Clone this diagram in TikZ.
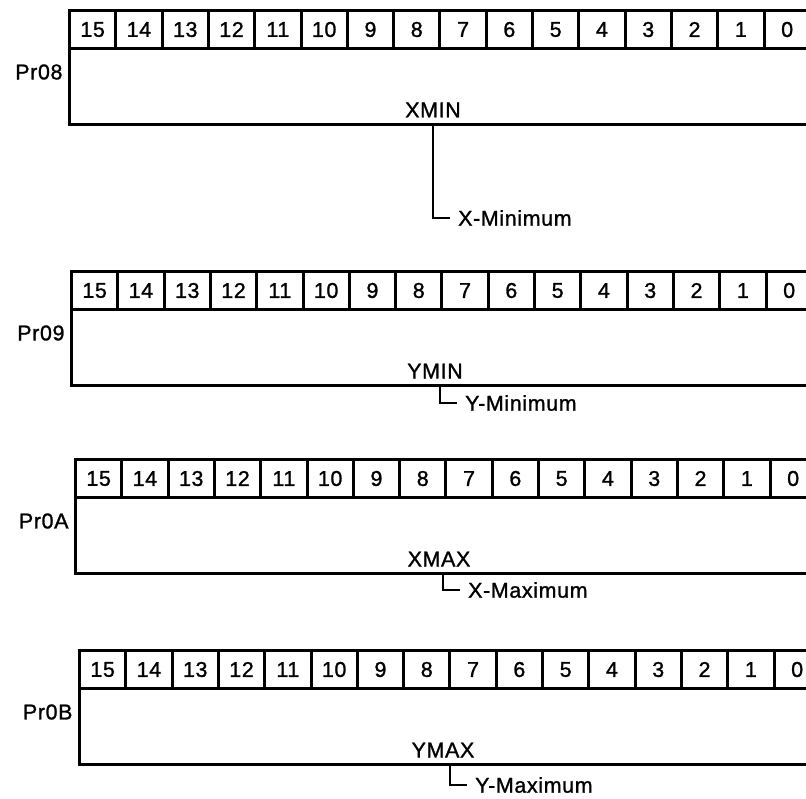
\documentclass[tikz,border=0pt]{standalone}
\usepackage{fontspec}
\setmainfont[LetterSpace=3, FakeBold=1.2]{Liberation Sans}
\usetikzlibrary{positioning}

\begin{document}
\begin{tikzpicture}[x=1bp, y=-1bp, font=\fontsize{21.5}{25}\selectfont,
    bitcell/.style={draw, line width=3bp, minimum width=46.3bp, minimum height=38bp, inner sep=0pt, anchor=north west},
    regbody/.style={draw, line width=3bp, minimum width=740.8bp, minimum height=76bp, inner sep=0pt, anchor=north west},
    desc/.style={anchor=west, inner xsep=8bp},
    leader/.style={line width=1.8bp}]
    \useasboundingbox (0,0) rectangle (806,799);
    % registers Pr08 .. Pr0B
    \foreach \n/\l/\t/\lab/\fld/\dsc/\dx/\dy in {
        1/68/9/Pr08/XMIN/X-Minimum/365/95,
        2/70/270/Pr09/YMIN/Y-Minimum/370/19,
        3/74/458/Pr0A/XMAX/X-Maximum/369/18,
        4/78/649/Pr0B/YMAX/Y-Maximum/372/22} {
        \node[regbody] (r\n) at (\l, \t+38) {};
        \foreach \b in {15,...,0}
            \node[bitcell] (r\n b\b) at ({\l+(15-\b)*46.3}, \t) {\b};
        \node[anchor=east] (r\n lab) at (\l-2, \t+63) {\lab};
        \node (r\n fld) at (\l+365, \t+101) {\fld};
        \coordinate (r\n tap) at (\l+\dx, \t+114);
        \node[desc] (r\n dsc) at (\l+\dx+17, \t+114+\dy) {\dsc};
        \draw[leader] (r\n tap) |- (r\n dsc.west);
    }
\end{tikzpicture}
\end{document}
